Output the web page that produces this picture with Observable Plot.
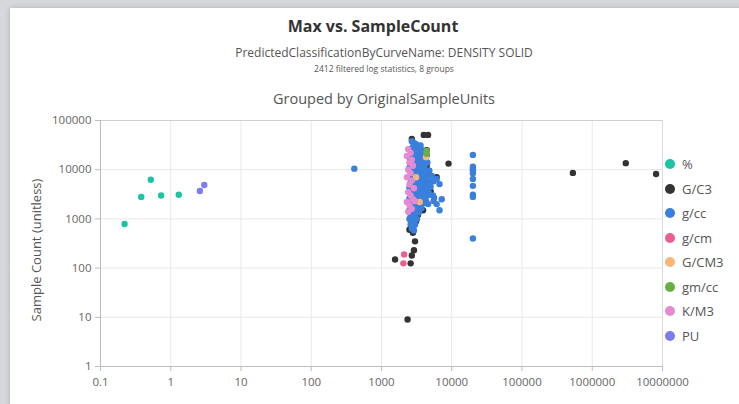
<!DOCTYPE html>
<html>
<head>
<meta charset="utf-8">
<script src="https://cdn.jsdelivr.net/npm/d3@7"></script>
<script src="https://cdn.jsdelivr.net/npm/@observablehq/plot@0.6"></script>
<style>
  html, body { margin: 0; padding: 0; width: 739px; height: 404px; overflow: hidden; background: #d6d8db; font-family: "Open Sans", sans-serif; }
  #card { position: absolute; left: 10px; top: 8px; width: 740px; height: 400px; background: #fff; box-shadow: 0 0 6px rgba(0,0,0,0.18); }
  .t { position: absolute; left: 0; width: 740px; text-align: center; white-space: nowrap; }
  #title { top: 7px; font-size: 16px; font-weight: 700; color: #333; left: -7px; }
  #sub { top: 36px; font-size: 12px; color: #555; left: 4px; }
  #note { top: 55px; font-size: 8.5px; color: #555; left: 4px; }
  #group { top: 81px; font-size: 14.5px; color: #555; left: 4px; }
  #plot { position: absolute; left: 0; top: 100px; }
  #ylabel { position: absolute; left: 26px; top: 242px; transform: translate(-50%, -50%) rotate(-90deg); font-size: 13px; color: #555; white-space: nowrap; }
  #legend { position: absolute; left: 655px; top: 148px; }
  .li { position: absolute; left: 0; height: 16px; display: flex; align-items: center; font-size: 13px; color: #555; white-space: nowrap; }
  .dot { width: 10px; height: 10px; border-radius: 50%; margin-right: 7px; }
</style>
</head>
<body>
<div id="card">
  <div class="t" id="title">Max vs. SampleCount</div>
  <div class="t" id="sub">PredictedClassificationByCurveName: DENSITY SOLID</div>
  <div class="t" id="note">2412 filtered log statistics, 8 groups</div>
  <div class="t" id="group">Grouped by OriginalSampleUnits</div>
  <div id="ylabel">Sample Count (unitless)</div>
  <div id="plot"></div>
  <div id="legend"></div>
</div>
<script>
// ---- data: [Max, SampleCount] per OriginalSampleUnits group ----
const units = ["%", "G/C3", "g/cc", "g/cm", "G/CM3", "gm/cc", "K/M3", "PU"];
const unitColors = ["#1cc4a6", "#333333", "#3a7fdc", "#ea5f8e", "#f7b77a", "#6aaf45", "#e68bd3", "#7b7df0"];
const xTicks = [0.1, 1, 10, 100, 1000, 10000, 100000, 1000000, 10000000];
const yTicks = [1, 10, 100, 1000, 10000, 100000];

const pctPts = [[0.22, 790], [0.38, 2800], [0.52, 6250], [0.73, 3000], [1.3, 3100]];
const puPts = [[2.6, 3700], [3.0, 4900]];
const gc3Pts = [
  [4000, 51000], [4600, 51000], [2700, 42000], [9000, 13300],
  [4400, 25000], [4400, 20000], [6100, 7000], [5000, 3600], [4200, 3100],
  [3100, 1700], [3000, 1050], [2600, 650], [2800, 520], [3000, 350],
  [1560, 150], [2700, 180], [2900, 230], [2600, 125], [2350, 9],
  [3500, 15000], [3800, 9000], [4400, 12000], [3200, 5500], [4100, 4200],
  [2800, 2800], [3600, 2000], [3900, 1500], [3300, 1200], [4700, 9500],
  [4300, 6000], [4800, 3300], [2700, 800], [2500, 600], [3100, 900],
  [530000, 8600], [3000000, 13600], [8100000, 8200]
];
const gccPts = [
  [2700, 38000], [2900, 35000], [3100, 30000], [3400, 28000], [2600, 26000], [3800, 25000],
  [3000, 24000], [4200, 22000], [2800, 21000], [3300, 20000],
  [2500, 18000], [2700, 17000], [3000, 16500], [3500, 16000], [3900, 15000], [4500, 14000],
  [2600, 14000], [2900, 13000], [3200, 12500], [3700, 12000], [4100, 11500], [2500, 11000],
  [2800, 10500], [3300, 10000], [3600, 10000], [4800, 9500],
  [2600, 9000], [3000, 8800], [3400, 8500], [3900, 8000], [4400, 7800], [5200, 7500],
  [2500, 7200], [2800, 7000], [3200, 6800], [3600, 6500], [4000, 6200], [4600, 6000],
  [5500, 5800], [2600, 5500], [2900, 5300], [3300, 5000], [3800, 4800], [4300, 4600],
  [5000, 4500], [2500, 4300], [2700, 4100], [3100, 4000],
  [3500, 3900], [4100, 3700], [4700, 3400], [5400, 3000], [5600, 2700], [2600, 3500],
  [2900, 3300], [3200, 3100], [3700, 2900], [4200, 2700], [2500, 2600], [2800, 2400],
  [3100, 2300], [3500, 2200], [4000, 2100], [4600, 2000], [2600, 1900], [2900, 1800],
  [3300, 1700], [2500, 1500], [2700, 1400], [3000, 1300],
  [2600, 1200], [2800, 1100], [2500, 1000], [2700, 900], [2900, 850], [2600, 780], [2800, 700],
  [3100, 33000], [3600, 31000], [2800, 29000], [3300, 26000], [3700, 23000], [2900, 19000],
  [3200, 18000], [3800, 17500], [4300, 16500], [3400, 14000], [3000, 11500], [3900, 10500],
  [4300, 9500], [3500, 7600], [4200, 7000], [3000, 6100], [3500, 5600], [4000, 5200],
  [4700, 5200], [3400, 4400], [3800, 4100], [4400, 3900], [3000, 3600], [3400, 3400],
  [3900, 3200], [4500, 3000], [3300, 2600], [3800, 2500], [4300, 2300], [3000, 2050],
  [3400, 1900], [3700, 1650], [3100, 1500], [3400, 1350], [2900, 1150], [3200, 1000],
  [3000, 760], [2700, 640], [2900, 580], [4100, 13000], [3700, 19000], [4000, 18500],
  [6700, 1500], [6100, 2000], [7200, 2500], [5500, 2300], [6700, 5100], [6100, 6500],
  [20000, 20000], [20000, 11500], [20000, 10500], [20000, 9800], [20000, 8500],
  [20000, 6500], [20000, 4700], [20000, 3100], [20000, 2800], [20000, 400],
  [410, 10500]
];
const gcmPts = [[2100, 190], [2050, 125]];
const gcm3Pts = [[4300, 18000], [3100, 7000], [3500, 2200]];
const gmccPts = [[4400, 24000], [4400, 21000]];
const km3Pts = [
  [2400, 26000], [2600, 22000], [2300, 19000], [2700, 16000], [2500, 14000], [2800, 12000],
  [2400, 10000], [2600, 8500], [2300, 7000], [2700, 6000], [2500, 5000], [2900, 4200],
  [2400, 3500], [2600, 3000], [2800, 2500], [2300, 2200], [2500, 1900], [2700, 1600],
  [2400, 1400], [3000, 2300]
];
const groupPts = [pctPts, gc3Pts, gccPts, gcmPts, gcm3Pts, gmccPts, km3Pts, puPts];

const rows = [];
groupPts.forEach((pts, i) => pts.forEach(([mx, sc]) => rows.push({unit: units[i], max: mx, count: sc})));

const fmt = d => String(d);
const chart = Plot.plot({
  width: 740, height: 285,
  marginLeft: 90, marginRight: 88, marginTop: 12, marginBottom: 27,
  style: {fontFamily: "Open Sans, sans-serif", fontSize: "11.5px", color: "#666", background: "transparent", overflow: "visible"},
  x: {type: "log", domain: [0.1, 1e7]},
  y: {type: "log", domain: [1, 1e5]},
  color: {domain: units, range: unitColors},
  marks: [
    Plot.gridX(xTicks, {stroke: "#e9e9e9", strokeOpacity: 1}),
    Plot.gridY(yTicks, {stroke: "#e9e9e9", strokeOpacity: 1}),
    Plot.ruleX([1e7], {stroke: "#dcdcdc"}),
    Plot.ruleY([1e5], {stroke: "#d0d0d0"}),
    Plot.ruleX([0.1], {stroke: "#bdbdbd"}),
    Plot.ruleY([1], {stroke: "#bdbdbd"}),
    Plot.axisY(yTicks, {tickFormat: fmt, tickSize: 5, tickPadding: 4, stroke: "#bdbdbd", fill: "#666", label: null}),
    Plot.axisX(xTicks, {tickFormat: fmt, tickSize: 5, tickPadding: 6, stroke: "#bdbdbd", fill: "#666", label: null}),
    Plot.dot(rows, {x: "max", y: "count", fill: "unit", r: 3.2, stroke: "none"})
  ]
});
document.getElementById("plot").appendChild(chart);

const leg = document.getElementById("legend");
units.forEach((u, i) => {
  const d = document.createElement("div");
  d.className = "li";
  d.style.top = (i * 24.5) + "px";
  d.innerHTML = `<span class="dot" style="background:${unitColors[i]}"></span>${u}`;
  leg.appendChild(d);
});
</script>
</body>
</html>
